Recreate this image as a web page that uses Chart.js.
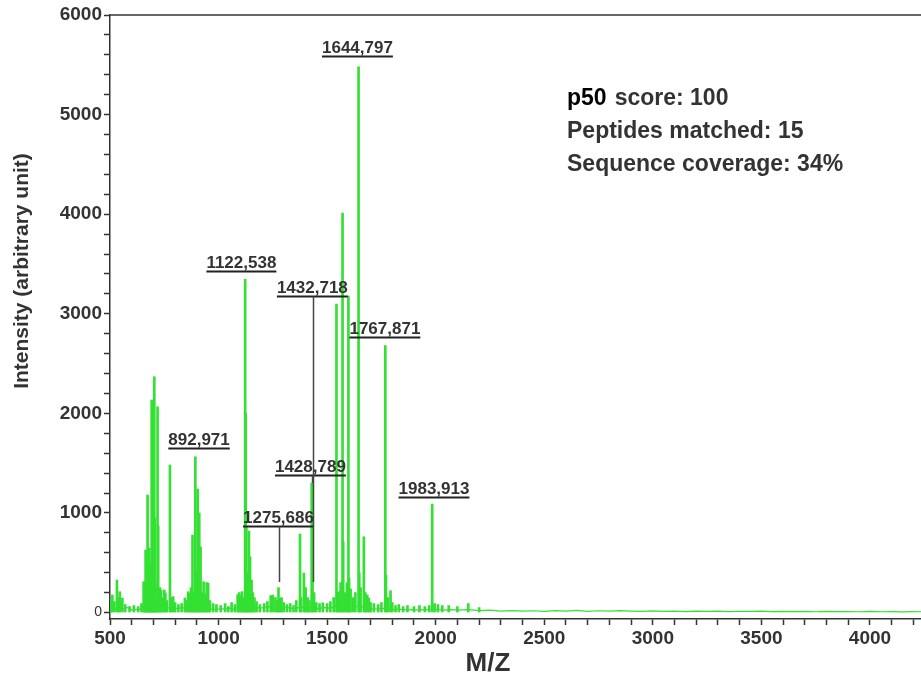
<!DOCTYPE html>
<html>
<head>
<meta charset="utf-8">
<script src="https://cdn.jsdelivr.net/npm/chart.js@4.4.0/dist/chart.umd.min.js"></script>
<style>
  html, body { margin: 0; padding: 0; background: #fff; }
  #wrap { width: 921px; height: 678px; position: relative; }
</style>
</head>
<body>
<div id="wrap"><canvas id="spectrum"></canvas></div>
<script>
// ── peak list (m/z, intensity) ──
const peakMz = [
  505, 511, 520, 532, 538, 545, 557, 570, 590, 610, 630, 645,
  655, 660, 664, 668, 673, 677, 681, 684, 688, 692, 696, 700, 704, 706, 709, 713, 719, 722, 730, 735, 741, 750, 755, 762,
  776, 780, 791, 800, 815, 830, 845, 852, 860, 867, 873, 880, 886, 893, 899, 904, 911, 917, 924, 931, 938, 945, 952, 960, 975, 990,
  1010, 1030, 1045, 1060, 1075, 1088, 1095, 1101, 1108, 1115,
  1122.5, 1125, 1128, 1133, 1140, 1145, 1152, 1158, 1165, 1175, 1190,
  1210, 1225, 1240, 1250, 1262, 1270, 1276, 1283, 1290, 1300, 1315, 1330, 1345, 1358,
  1375, 1380, 1393, 1401, 1410, 1418, 1428.8, 1432.7, 1440, 1450, 1465, 1480, 1500, 1515, 1530,
  1543, 1548, 1555, 1562, 1571, 1574, 1583, 1591, 1598, 1601, 1608, 1620, 1630, 1644.8, 1648, 1654, 1669, 1676, 1685, 1692, 1700, 1715, 1735, 1750,
  1767.9, 1771, 1780, 1792, 1800, 1815, 1830, 1850, 1870, 1900, 1925, 1950, 1970, 1983.9, 1995, 2010, 2030, 2060, 2100, 2150, 2200
];
const peakIntensity = [
  120, 176, 110, 326, 150, 209, 146, 80, 60, 70, 60, 90,
  309, 250, 628, 400, 1180, 300, 647, 500, 350, 2134, 400, 500, 2368, 949, 300, 250, 2066, 870, 250, 226, 150, 226, 196, 120,
  1481, 150, 160, 100, 80, 90, 146, 120, 209, 193, 250, 778, 200, 1564, 420, 1240, 1000, 661, 200, 309, 180, 300, 296, 120, 90, 80,
  70, 90, 60, 100, 80, 180, 200, 170, 210, 150,
  3345, 2003, 862, 400, 818, 560, 326, 200, 150, 110, 80,
  90, 110, 170, 175, 150, 120, 250, 140, 150, 100, 80, 90, 70, 120,
  788, 150, 396, 250, 150, 120, 1300, 310, 200, 100, 90, 98, 90, 110, 150,
  3097, 200, 209, 300, 4010, 711, 199, 300, 3178, 346, 236, 150, 200, 5480, 400, 250, 761, 200, 176, 146, 100, 90, 80, 100,
  2680, 376, 150, 219, 100, 70, 80, 60, 70, 60, 70, 60, 70, 1089, 90, 80, 70, 70, 60, 90, 50
];

// ── baseline noise trace ──
const noiseMz = [
  500, 515, 525, 550, 565, 580, 600, 620, 640, 660, 680, 700, 720, 740, 760, 785, 810, 830, 850, 870, 890, 910, 930, 950, 970, 990,
  1010, 1030, 1050, 1070, 1090, 1110, 1130, 1150, 1170, 1190, 1210, 1230, 1250, 1270, 1290, 1310, 1330, 1350, 1370, 1390, 1410, 1430,
  1450, 1470, 1490, 1510, 1530, 1550, 1570, 1590, 1610, 1630, 1650, 1670, 1690, 1710, 1730, 1750, 1770, 1790, 1810, 1830, 1850, 1870,
  1890, 1910, 1930, 1950, 1970, 1990, 2010, 2040, 2070, 2100, 2150, 2200, 2250, 2300, 2350, 2400, 2450, 2500, 2550, 2600, 2650, 2700,
  2750, 2800, 2850, 2900, 2950, 3000, 3050, 3100, 3150, 3200, 3250, 3300, 3350, 3400, 3450, 3500, 3550, 3600, 3650, 3700, 3750, 3800,
  3850, 3900, 3950, 4000, 4050, 4100, 4150, 4200, 4235
];
const noiseIntensity = [
  40, 70, 30, 45, 35, 50, 25, 30, 35, 70, 90, 110, 90, 70, 50, 45, 40, 50, 45, 60, 70, 65, 55, 40, 35, 30,
  40, 35, 45, 35, 50, 70, 90, 70, 55, 45, 50, 60, 55, 45, 40, 55, 45, 40, 50, 55, 45, 50,
  40, 45, 50, 45, 55, 70, 80, 75, 65, 60, 65, 55, 45, 40, 35, 40, 45, 35, 30, 35, 30, 25,
  30, 25, 30, 25, 30, 35, 30, 25, 30, 25, 30, 20, 25, 15, 20, 15, 18, 12, 20, 15, 22, 12,
  18, 14, 20, 15, 12, 16, 12, 15, 10, 14, 12, 15, 10, 13, 12, 14, 10, 12, 9, 11, 8, 12,
  9, 10, 8, 11, 8, 9, 7, 9, 8
];

// ── labelled peptides ──
const labelText  = ['892,971', '1122,538', '1275,686', '1428,789', '1432,718', '1644,797', '1767,871', '1983,913'];
const labelMz    = [910, 1105, 1276, 1423, 1432, 1639.5, 1766, 1992];
const labelLevel = [1652, 3429, 868, 1380, 3178, 5587, 2766, 1160];
const leaderMz   = [null, null, 1278, 1428.8, 1432.7, null, null, null];
const leaderEnd  = [null, null, 306, 1300, 306, null, null, null];

// ── axes ──
const xMajorTicks = [500, 1000, 1500, 2000, 2500, 3000, 3500, 4000];
const xMinorStep = 100;
const yMajorTicks = [0, 1000, 2000, 3000, 4000, 5000, 6000];
const yMinorStep = 200;

const infoHead = 'p50';
const infoLines = ['score: 100', 'Peptides matched: 15', 'Sequence coverage: 34%'];

const FONT = "'Liberation Sans', Arial, sans-serif";
const INK = '#333';
const GREEN = '#33e033';

// minor + major tick marks between the first and last major label
function tickRange(majors, step, upto) {
  const out = [];
  for (let v = majors[0]; v <= upto; v += step) out.push({ value: v });
  return out;
}

const spectrumDecor = {
  id: 'spectrumDecor',
  afterDatasetsDraw(chart) {
    const { ctx, chartArea: a, scales: { x, y } } = chart;
    ctx.save();

    // top frame line
    ctx.strokeStyle = INK;
    ctx.lineWidth = 1.5;
    ctx.beginPath();
    ctx.moveTo(a.left, a.top);
    ctx.lineTo(a.right, a.top);
    ctx.stroke();

    // peak labels with underline and leaders
    ctx.font = `bold 17px ${FONT}`;
    ctx.textAlign = 'center';
    ctx.textBaseline = 'alphabetic';
    labelText.forEach((t, i) => {
      const cx = x.getPixelForValue(labelMz[i]);
      const uy = Math.round(y.getPixelForValue(labelLevel[i])) + 0.5;
      const w = ctx.measureText(t).width;
      ctx.fillStyle = INK;
      ctx.fillText(t, cx, uy - 4);
      ctx.strokeStyle = '#222';
      ctx.lineWidth = 2;
      ctx.beginPath();
      ctx.moveTo(cx - w / 2, uy);
      ctx.lineTo(cx + w / 2, uy);
      ctx.stroke();
      if (leaderMz[i] != null) {
        const lx = Math.round(x.getPixelForValue(leaderMz[i])) + 0.5;
        ctx.strokeStyle = '#444';
        ctx.lineWidth = 1.5;
        ctx.beginPath();
        ctx.moveTo(lx, uy);
        ctx.lineTo(lx, y.getPixelForValue(leaderEnd[i]));
        ctx.stroke();
      }
    });

    // info block
    const ix = a.left + 457;
    ctx.textAlign = 'left';
    ctx.font = `bold 23px ${FONT}`;
    ctx.fillStyle = '#000';
    ctx.fillText(infoHead, ix, 105);
    const hw = ctx.measureText(infoHead).width;
    ctx.fillStyle = INK;
    ctx.fillText(infoLines[0], ix + hw + 8, 105);
    ctx.fillText(infoLines[1], ix, 138);
    ctx.fillText(infoLines[2], ix, 171);

    // axis titles
    ctx.font = `bold 26px ${FONT}`;
    ctx.textAlign = 'center';
    ctx.textBaseline = 'middle';
    ctx.fillText('M/Z', 488, 664);
    ctx.translate(22, 271);
    ctx.rotate(-Math.PI / 2);
    ctx.font = `bold 21px ${FONT}`;
    ctx.fillText('Intensity (arbitrary unit)', 0, 0);
    ctx.restore();
  }
};

new Chart(document.getElementById('spectrum'), {
  type: 'bar',
  data: {
    datasets: [
      {
        type: 'line',
        data: noiseMz.map((m, i) => ({ x: m, y: noiseIntensity[i] })),
        borderColor: GREEN,
        borderWidth: 1.2,
        pointRadius: 0,
        tension: 0,
      },
      {
        type: 'bar',
        data: peakMz.map((m, i) => ({ x: m, y: peakIntensity[i] })),
        backgroundColor: GREEN,
        borderWidth: 0,
        barThickness: 2,
        grouped: false,
      },
    ],
  },
  plugins: [spectrumDecor],
  options: {
    responsive: true,
    maintainAspectRatio: false,
    animation: false,
    layout: { padding: { top: 15, right: 0, left: 0, bottom: 0 } },
    plugins: { legend: { display: false }, tooltip: { enabled: false } },
    scales: {
      x: {
        type: 'linear',
        offset: false,
        min: 500, max: 4235,
        afterFit: s => { s.height = 59; },
        afterBuildTicks: s => { s.ticks = tickRange(xMajorTicks, xMinorStep, 4200); },
        grid: { offset: false, drawOnChartArea: false, tickLength: 6, tickColor: INK, tickWidth: 1.5 },
        border: { color: INK, width: 1.5 },
        ticks: {
          autoSkip: false,
          maxRotation: 0,
          padding: 2,
          color: INK,
          font: { family: FONT, size: 19, weight: 'bold' },
          callback: v => xMajorTicks.includes(v) ? String(v) : '',
        },
      },
      y: {
        min: -65, max: 6000,
        afterFit: s => { s.width = 110; },
        afterBuildTicks: s => { s.ticks = tickRange(yMajorTicks, yMinorStep, 6000); },
        grid: { drawOnChartArea: false, tickLength: 6, tickColor: INK, tickWidth: 1.5 },
        border: { color: INK, width: 1.5 },
        ticks: {
          autoSkip: false,
          padding: 2,
          color: INK,
          font: c => c.tick && c.tick.value === 0
            ? { family: FONT, size: 14 }
            : { family: FONT, size: 19, weight: 'bold' },
          callback: v => yMajorTicks.includes(v) ? String(v) : '',
        },
      },
    },
  },
});
</script>
</body>
</html>
